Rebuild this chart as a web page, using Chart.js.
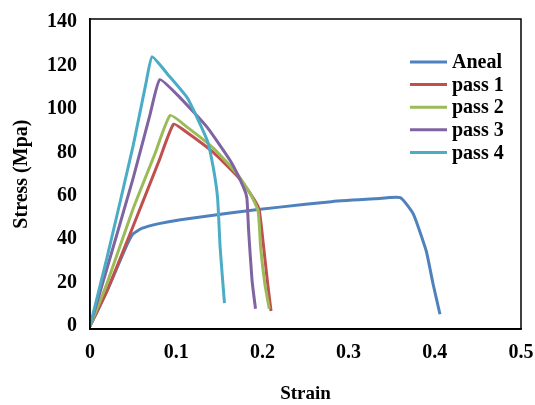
<!DOCTYPE html>
<html>
<head>
<meta charset="utf-8">
<script src="https://cdn.jsdelivr.net/npm/chart.js@4.4.0/dist/chart.umd.min.js"></script>
<style>
  html, body { margin: 0; padding: 0; background: #fff; }
</style>
</head>
<body>
<canvas id="stressChart" width="535" height="405"></canvas>
<script>
// Stress-strain curves, values

const seriesNames = ['Aneal', 'pass 1', 'pass 2', 'pass 3', 'pass 4'];
const seriesColors = ['#4f81bd', '#c0504d', '#9bbb59', '#8064a2', '#4bacc6'];

const anealStrain = [0, 0.02, 0.043, 0.05, 0.06, 0.08, 0.105, 0.16, 0.22, 0.28, 0.33, 0.36, 0.375, 0.39, 0.398, 0.406];
const anealStress = [0, 16.5, 37.5, 42.5, 45, 47.2, 49, 52, 54.8, 57.3, 58.6, 59.2, 51.7, 34.7, 19.4, 5.5];

const pass1Strain = [0, 0.02, 0.05, 0.08, 0.097, 0.113, 0.143, 0.171, 0.186, 0.196, 0.201, 0.206, 0.21];
const pass1Stress = [0, 16.5, 46, 76, 93, 89, 80, 69, 61, 54, 38, 20, 7];

const pass2Strain = [0, 0.02, 0.05, 0.075, 0.093, 0.113, 0.143, 0.171, 0.186, 0.195, 0.198, 0.203, 0.208];
const pass2Stress = [0, 20, 54, 79, 97, 91.5, 82, 70, 61, 53, 36, 19, 8];

const pass3Strain = [0, 0.02, 0.05, 0.07, 0.081, 0.105, 0.136, 0.163, 0.178, 0.182, 0.184, 0.188, 0.192];
const pass3Stress = [0, 27, 68, 98, 113.5, 105, 91.5, 76, 64, 59, 44, 21, 8];

const pass4Strain = [0, 0.02, 0.05, 0.065, 0.072, 0.09, 0.113, 0.136, 0.143, 0.148, 0.151, 0.156];
const pass4Stress = [0, 32, 83, 112, 124, 116, 105, 85.5, 73, 59, 36, 10.6];

const strainTicks = [0, 0.1, 0.2, 0.3, 0.4, 0.5];
const stressTicks = [0, 20, 40, 60, 80, 100, 120, 140];

const FONT = "'Liberation Serif', 'Times New Roman', serif";

function toPoints(xs, ys) {
    return xs.map((x, i) => ({ x: x, y: ys[i] }));
}

// labels are allowed to hang over the plot edges, like the original
function noEdgePadding(scale) {
    scale.paddingLeft = 0;
    scale.paddingRight = 0;
    scale.paddingTop = 0;
    scale.paddingBottom = 0;
}

const curves = [
    toPoints(anealStrain, anealStress),
    toPoints(pass1Strain, pass1Stress),
    toPoints(pass2Strain, pass2Stress),
    toPoints(pass3Strain, pass3Stress),
    toPoints(pass4Strain, pass4Stress)
];

// box round the plot area
const framePlugin = {
    id: 'frame',
    afterDatasetsDraw(chart) {
        const a = chart.chartArea;
        const ctx = chart.ctx;
        ctx.save();
        ctx.strokeStyle = '#000';
        ctx.lineWidth = 1.5;
        ctx.strokeRect(a.left, a.top, a.right - a.left, a.bottom - a.top);
        ctx.restore();
    }
};

// legend sits inside the plot, top right
const insideLegend = {
    id: 'insideLegend',
    afterDraw(chart) {
        const ctx = chart.ctx;
        const a = chart.chartArea;
        const x0 = a.right - 111;
        const y0 = a.top + 43;
        ctx.save();
        ctx.font = 'bold 20px ' + FONT;
        ctx.textBaseline = 'middle';
        chart.data.datasets.forEach((ds, i) => {
            const y = y0 + i * 22.6;
            ctx.strokeStyle = ds.borderColor;
            ctx.lineWidth = 3;
            ctx.beginPath();
            ctx.moveTo(x0, y);
            ctx.lineTo(x0 + 37, y);
            ctx.stroke();
            ctx.fillStyle = '#000';
            ctx.fillText(ds.label, x0 + 42, y + 1);
        });
        ctx.restore();
    }
};

new Chart(document.getElementById('stressChart').getContext('2d'), {
    type: 'line',
    data: {
        datasets: curves.map((pts, i) => ({
            label: seriesNames[i],
            data: pts,
            borderColor: seriesColors[i],
            backgroundColor: seriesColors[i],
            borderWidth: 3,
            pointRadius: 0,
            tension: 0.15,
            fill: false,
            order: curves.length - i
        }))
    },
    options: {
        responsive: false,
        animation: false,
        layout: {
            autoPadding: false,
            padding: { left: 10, right: 14, top: 19, bottom: 0 }
        },
        plugins: {
            legend: { display: false },
            tooltip: { enabled: false }
        },
        scales: {
            x: {
                type: 'linear',
                min: 0,
                max: 0.5,
                afterBuildTicks: (axis) => {
                    axis.ticks = strainTicks.map(v => ({ value: v }));
                },
                afterFit: noEdgePadding,
                grid: { display: false, drawTicks: false },
                border: { display: true, color: '#000', width: 1.5 },
                ticks: {
                    color: '#000',
                    padding: 12,
                    maxRotation: 0,
                    font: { family: FONT, size: 20, weight: 'bold' },
                    callback: (v) => String(v)
                },
                title: {
                    display: true,
                    text: 'Strain',
                    color: '#000',
                    padding: { top: 5, bottom: 0 },
                    font: { family: FONT, size: 19, weight: 'bold' }
                }
            },
            y: {
                type: 'linear',
                min: -1.4,
                max: 141.4,
                afterBuildTicks: (axis) => {
                    axis.ticks = stressTicks.map(v => ({ value: v }));
                },
                afterFit: noEdgePadding,
                grid: { display: false, drawTicks: false },
                border: { display: true, color: '#000', width: 1.5 },
                ticks: {
                    color: '#000',
                    padding: 13,
                    font: { family: FONT, size: 20, weight: 'bold' }
                },
                title: {
                    display: true,
                    text: 'Stress (Mpa)',
                    color: '#000',
                    padding: { top: 0, bottom: 0 },
                    font: { family: FONT, size: 20, weight: 'bold' }
                }
            }
        }
    },
    plugins: [framePlugin, insideLegend]
});
</script>
</body>
</html>
